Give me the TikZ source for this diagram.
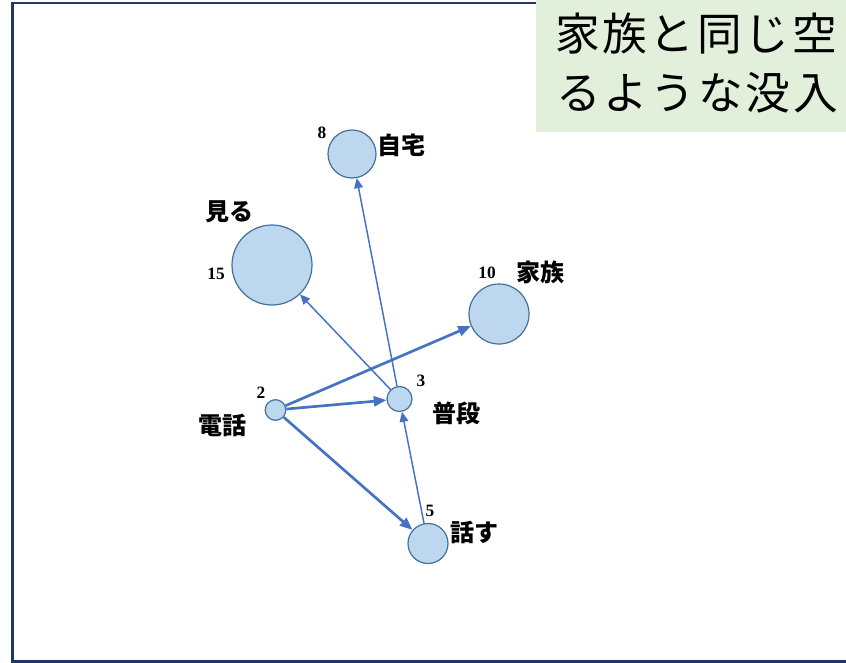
\documentclass[tikz,border=0pt]{standalone}
\usepackage{fontspec}
\newfontfamily\cjk{Noto Sans CJK JP}
\newfontfamily\cjkhead{Noto Sans CJK JP}[LetterSpace=6]
\newfontfamily\numf{Liberation Serif}
\usetikzlibrary{arrows.meta}
\definecolor{edgeblue}{HTML}{4472C4}
\definecolor{nodefill}{HTML}{BDD7EE}
\definecolor{nodeline}{HTML}{41719C}
\definecolor{framec}{HTML}{1F3864}
\definecolor{greenbg}{HTML}{E2EFDA}
\tikzset{
  vtx/.style={circle, draw=nodeline, fill=nodefill, line width=0.9pt, minimum size=#1*1.5pt, inner sep=0pt},
  thickedge/.style={draw=edgeblue, line width=2pt, -{Triangle[length=9.5pt,width=7.5pt]}},
  thinedge/.style={draw=edgeblue, line width=1.1pt, -{Triangle[length=7.5pt,width=6.5pt]}},
  wordlbl/.style={font=\cjk\bfseries\fontsize{18}{20}\selectfont, inner sep=0pt},
  numlbl/.style={font=\numf\bfseries\fontsize{13}{15}\selectfont, inner sep=0pt},
  headtxt/.style={font=\cjkhead\fontsize{33.5}{40}\selectfont, inner sep=0pt, anchor=west}
}
\begin{document}
\begin{tikzpicture}[x=0.75pt,y=-0.75pt]
\useasboundingbox (0,0) rectangle (846,663);
\begin{scope}
\clip (0,0) rectangle (846,663);
\fill[white] (0,0) rectangle (846,663);
\draw[framec, line width=1.6pt] (12.5,3) rectangle (900,661.5);
\fill[greenbg] (536,-5) rectangle (900,132);
\node[headtxt] (h1) at (555,34) {家族と同じ空};
\node[headtxt] (h2) at (556,93) {るような没入};
\end{scope}

% nodes
\node[vtx=24] (jitaku) at (352,154) {};
\node[vtx=40] (miru) at (272,265) {};
\node[vtx=30] (kazoku) at (499,314) {};
\node[vtx=10.3] (denwa) at (275.5,410) {};
\node[vtx=12.5] (fudan) at (399.5,399) {};
\node[vtx=20] (hanasu) at (428,543.5) {};

% edges
\draw[thinedge] (fudan) -- (jitaku);
\draw[thinedge] (fudan) -- (miru);
\draw[thinedge] (hanasu) -- (fudan);
\draw[thickedge] (denwa) -- (kazoku);
\draw[thickedge] (denwa) -- (fudan);
\draw[thickedge] (denwa) -- (hanasu);

% labels
\node[numlbl] (n8) at (322,133) {8};
\node[wordlbl] (l8) at (401,145) {自宅};
\node[wordlbl] (l15w) at (229,212) {見る};
\node[numlbl] (n15) at (216,274) {15};
\node[numlbl] (n10) at (487,273) {10};
\node[wordlbl] (l10) at (540,272) {家族};
\node[numlbl] (n2) at (261,393) {2};
\node[wordlbl] (l2) at (222,425) {電話};
\node[numlbl] (n3) at (421,381) {3};
\node[wordlbl] (l3) at (456,413) {普段};
\node[numlbl] (n5) at (430,511) {5};
\node[wordlbl] (l5) at (474,532) {話す};
\end{tikzpicture}
\end{document}
